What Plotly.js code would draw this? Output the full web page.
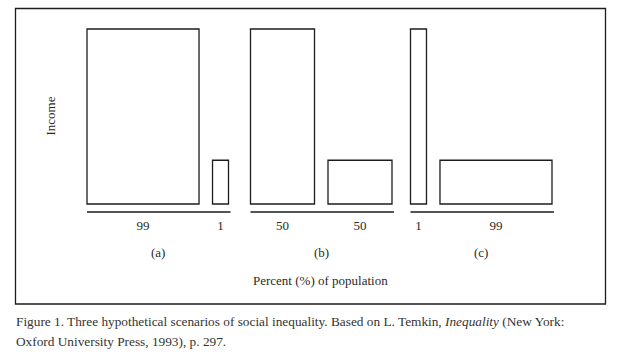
<!DOCTYPE html>
<html>
<head>
<meta charset="utf-8">
<script src="https://cdn.plot.ly/plotly-3.0.1.min.js"></script>
<style>html,body{margin:0;padding:0;background:#fff;}#chart{width:632px;height:359px;}</style>
</head>
<body>
<div id="chart"></div>
<script>
// ---- data ----
const scenarioLabels = ['(a)', '(b)', '(c)'];
const populationShares = [[99, 1], [50, 50], [1, 99]];   // percent of population in each group
const incomeLevels = [[4, 1], [4, 1], [4, 1]];           // relative income of each group
const yAxisTitle = 'Income';
const xAxisTitle = 'Percent (%) of population';
const captionLine1 = 'Figure 1. Three hypothetical scenarios of social inequality. Based on L. Temkin, <i>Inequality</i> (New York:';
const captionLine2 = 'Oxford University Press, 1993), p. 297.';

// ---- layout constants (drawing geometry, not data) ----
const W = 632, H = 359;
const M = {l: 70, r: 62, t: 20, b: 147};
const plotW = W - M.l - M.r, plotH = H - M.t - M.b;
const unitPerShare = 0.98, minWidth = 15;   // bar width = share*unitPerShare + minWidth
const startX = 17, innerGap = 13.5, groupGaps = [22, 18.5], lineOverhang = 2;
const baseDrop = 8;                         // px gap between bar base and baseline
const pxPerIncome = 43.75;
const ink = '#1c1c1c', textCol = '#2a2a2a';
const fontFam = 'Liberation Serif, Times New Roman, DejaVu Serif, serif';

const yMin = -baseDrop / pxPerIncome;
const yMax = yMin + plotH / pxPerIncome;

const xs = [], widths = [], ys = [], tickText = [];
const groups = [];
let cursor = startX;
populationShares.forEach((grp, gi) => {
  const gStart = cursor;
  grp.forEach((s, bi) => {
    const w = s * unitPerShare + minWidth;
    xs.push(cursor + w / 2);
    widths.push(w);
    ys.push(incomeLevels[gi][bi]);
    tickText.push(String(s));
    cursor += w + (bi < grp.length - 1 ? innerGap : 0);
  });
  groups.push([gStart, cursor]);
  cursor += groupGaps[gi] || 0;
});

const toPaperX = px => (px - M.l) / plotW;
const toPaperY = py => (H - M.b - py) / plotH;

const shapes = groups.map(g => ({
  type: 'line', xref: 'x', yref: 'paper',
  x0: g[0], x1: g[1] + lineOverhang, y0: 0, y1: 0,
  line: {color: ink, width: 1.3}
}));
shapes.push({
  type: 'rect', xref: 'paper', yref: 'paper',
  x0: toPaperX(15.5), x1: toPaperX(605.5), y0: toPaperY(304), y1: toPaperY(8.5),
  line: {color: ink, width: 1.3}, fillcolor: 'rgba(0,0,0,0)'
});

const txtFont = {family: fontFam, size: 13, color: textCol};
const capFont = {family: fontFam, size: 13.3, color: '#333'};
const annotations = groups.map((g, i) => ({
  x: (g[0] + g[1]) / 2, xref: 'x', y: toPaperY(252), yref: 'paper',
  xanchor: 'center', yanchor: 'middle',
  text: scenarioLabels[i], showarrow: false, font: txtFont
}));
annotations.push({
  x: toPaperX(320), xref: 'paper', y: toPaperY(280), yref: 'paper',
  xanchor: 'center', yanchor: 'middle',
  text: xAxisTitle, showarrow: false, font: txtFont
});
annotations.push({
  x: toPaperX(14), xref: 'paper', xanchor: 'left', y: toPaperY(321), yref: 'paper', yanchor: 'middle',
  text: captionLine1, showarrow: false, font: capFont
});
annotations.push({
  x: toPaperX(14), xref: 'paper', xanchor: 'left', y: toPaperY(341), yref: 'paper', yanchor: 'middle',
  text: captionLine2, showarrow: false, font: capFont
});

const trace = {
  type: 'bar', x: xs, y: ys, width: widths, base: 0,
  marker: {color: '#ffffff', line: {color: ink, width: 1.3}},
  hoverinfo: 'skip'
};

const layout = {
  width: W, height: H, margin: M,
  paper_bgcolor: '#fff', plot_bgcolor: '#fff',
  showlegend: false,
  font: txtFont,
  xaxis: {
    range: [0, plotW], showgrid: false, zeroline: false, showline: false,
    ticks: '', tickmode: 'array', tickvals: xs, ticktext: tickText,
    ticklabelstandoff: 4,
    tickfont: txtFont, fixedrange: true
  },
  yaxis: {
    range: [yMin, yMax], showgrid: false, zeroline: false, showline: false,
    showticklabels: false, ticks: '', fixedrange: true,
    title: {text: yAxisTitle, standoff: 10, font: txtFont}
  },
  shapes: shapes,
  annotations: annotations
};

Plotly.newPlot('chart', [trace], layout, {staticPlot: true, displayModeBar: false});
</script>
</body>
</html>
